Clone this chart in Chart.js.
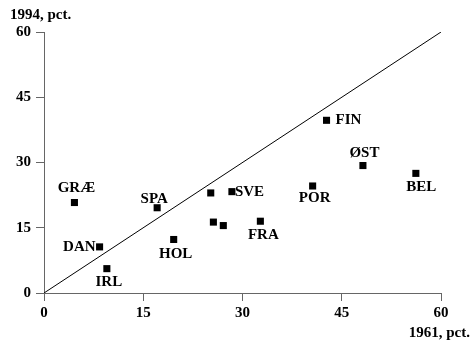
<!DOCTYPE html>
<html>
<head>
<meta charset="utf-8">
<script src="https://cdn.jsdelivr.net/npm/chart.js@4.4.0/dist/chart.umd.min.js"></script>
<style>
  html, body { margin: 0; padding: 0; background: #fff; }
  #wrap { width: 471px; height: 342px; position: relative; }
</style>
</head>
<body>
<div id="wrap"><canvas id="chart"></canvas></div>
<script>
// data
const countries = ['GRÆ', 'SPA', 'DAN', 'IRL', 'HOL', '', 'SVE', '', '', 'FRA', 'POR', 'FIN', 'ØST', 'BEL'];
const share1961 = [4.6, 17.1, 8.4, 9.5, 19.6, 25.2, 28.4, 25.6, 27.1, 32.7, 40.6, 42.7, 48.2, 56.2];
const share1994 = [20.8, 19.6, 10.6, 5.6, 12.3, 23.0, 23.3, 16.3, 15.5, 16.5, 24.6, 39.7, 29.3, 27.5];
const ticks = [0, 15, 30, 45, 60];

const serif = '"Liberation Serif", "Times New Roman", serif';

// where each label sits relative to its marker
const labelPlace = {
    'GRÆ': { dx: 2, dy: -14, align: 'center' },
    'SPA': { dx: -3, dy: -9, align: 'center' },
    'DAN': { dx: -4, dy: 0, align: 'right' },
    'IRL': { dx: 2, dy: 13, align: 'center' },
    'HOL': { dx: 2, dy: 15, align: 'center' },
    'SVE': { dx: 3, dy: 0, align: 'left' },
    'FRA': { dx: 3, dy: 14, align: 'center' },
    'POR': { dx: 2, dy: 12.5, align: 'center' },
    'FIN': { dx: 9, dy: 0, align: 'left' },
    'ØST': { dx: 1.5, dy: -12.5, align: 'center' },
    'BEL': { dx: 5.5, dy: 14, align: 'center' }
};

const points = share1961.map((x, i) => ({ x: x, y: share1994[i] }));

const pointLabels = {
    id: 'pointLabels',
    afterDatasetsDraw(chart) {
        const { ctx, scales } = chart;
        ctx.save();
        ctx.fillStyle = '#000';
        ctx.font = 'bold 15px ' + serif;
        ctx.textBaseline = 'middle';
        countries.forEach((name, i) => {
            if (!name) return;
            const p = labelPlace[name];
            const px = scales.x.getPixelForValue(share1961[i]);
            const py = scales.y.getPixelForValue(share1994[i]);
            ctx.textAlign = p.align;
            ctx.fillText(name, px + p.dx, py + p.dy);
        });
        // axis titles
        ctx.font = 'bold 15px ' + serif;
        ctx.textAlign = 'left';
        ctx.fillText('1994, pct.', 10, 15);
        ctx.textAlign = 'right';
        ctx.fillText('1961, pct.', 470, 333);
        ctx.restore();
    }
};

new Chart(document.getElementById('chart'), {
    type: 'scatter',
    data: {
        datasets: [{
            data: points,
            pointStyle: 'rect',
            pointRadius: 5,
            pointBorderWidth: 0,
            backgroundColor: '#000',
            borderColor: '#000'
        }, {
            type: 'line',
            data: [{ x: 0, y: 0 }, { x: 60, y: 60 }],
            borderColor: '#000',
            borderWidth: 1,
            pointRadius: 0,
            fill: false
        }]
    },
    options: {
        responsive: true,
        maintainAspectRatio: false,
        animation: false,
        layout: { padding: { top: 32, right: 30, left: 0, bottom: 0 } },
        plugins: {
            legend: { display: false },
            tooltip: { enabled: false }
        },
        scales: {
            x: {
                type: 'linear',
                min: 0,
                max: 60,
                afterBuildTicks: s => { s.ticks = ticks.map(v => ({ value: v })); },
                afterFit: s => { s.height = 49; },
                border: { display: true, color: '#666', width: 1 },
                grid: { display: true, drawOnChartArea: false, drawTicks: true, tickLength: 8, color: '#666' },
                ticks: { color: '#000', font: { family: serif, size: 15, weight: 'bold' }, padding: 3 }
            },
            y: {
                type: 'linear',
                min: 0,
                max: 60,
                afterBuildTicks: s => { s.ticks = ticks.map(v => ({ value: v })); },
                afterFit: s => { s.width = 44; },
                border: { display: true, color: '#666', width: 1 },
                grid: { display: true, drawOnChartArea: false, drawTicks: true, tickLength: 8, color: '#666' },
                ticks: { color: '#000', font: { family: serif, size: 15, weight: 'bold' }, padding: 5 }
            }
        }
    },
    plugins: [pointLabels]
});
</script>
</body>
</html>
